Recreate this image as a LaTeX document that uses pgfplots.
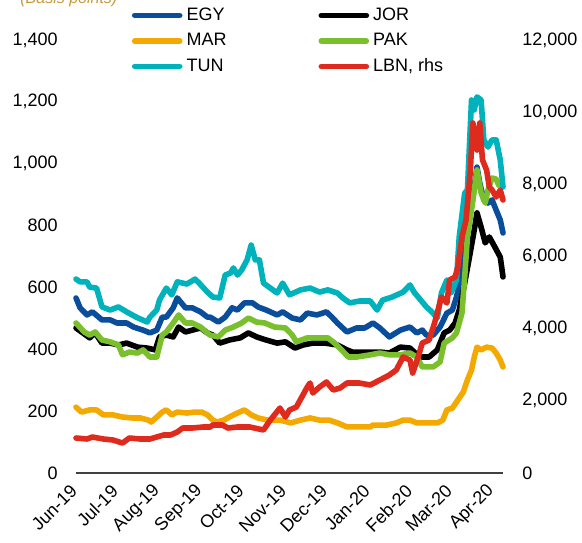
\documentclass[border=0pt]{standalone}
\usepackage{pgfplots}
\pgfplotsset{compat=1.18}
\usepackage{fontspec}
\setmainfont{Liberation Sans}
\definecolor{egy}{HTML}{0A4E9B}
\definecolor{mar}{HTML}{F4A900}
\definecolor{tun}{HTML}{00B2BC}
\definecolor{pak}{HTML}{7AC02C}
\definecolor{lbn}{HTML}{DF2A1E}
\definecolor{ttl}{HTML}{C89A3C}
\definecolor{axc}{HTML}{404040}
\begin{document}
\fontsize{9}{10.8}\selectfont
\begin{tikzpicture}
\pgfplotsset{
  base/.style={
    scale only axis, width=213.5pt, height=216.5pt,
    at={(38pt,34.5pt)}, anchor=south west,
    xmin=0, xmax=312, clip=false,
    major tick length=0pt,
    scaled y ticks=false,
    /pgf/number format/assume math mode=true,
    /pgf/number format/1000 sep={,},
    tick label style={font=\fontsize{9}{10.8}\selectfont},
    xtick={0,30,61,92,122,153,183,214,245,274,305},
    xticklabels={Jun-19,Jul-19,Aug-19,Sep-19,Oct-19,Nov-19,Dec-19,Jan-20,Feb-20,Mar-20,Apr-20},
    every axis plot/.append style={line width=2.8pt, line join=round, line cap=round},
    legend image code/.code={\draw[##1, line width=2.8pt, line cap=round] (0pt,0pt) -- (22.5pt,0pt);},
  }
}
\begin{axis}[base, ymin=0, ymax=1400, ytick={0,200,...,1400},
  axis x line*=bottom, axis y line*=left,
  y axis line style={draw=none},
  x axis line style={draw=axc, line width=1pt, -},
  yticklabel style={anchor=east, inner sep=0pt, xshift=-9pt},
  xticklabel style={xshift=-1pt, yshift=-7.5pt, rotate=45, anchor=east, inner sep=0pt},
]
\addplot[egy] coordinates {(0,566)(3,534)(8,511)(12,521)(19,495)(25,495)(30,485)(37,485)(42,472)(49,462)(54,453)(59,462)(63,504)(66,504)(71,534)(74,566)(80,534)(85,534)(91,521)(96,504)(98,504)(104,488)(109,504)(114,534)(118,527)(123,550)(129,550)(133,537)(139,527)(147,511)(151,521)(158,501)(164,495)(169,517)(176,511)(183,521)(187,504)(191,485)(198,456)(205,469)(211,469)(217,485)(222,469)(229,440)(237,462)(244,472)(249,453)(253,462)(256,446)(261,446)(266,472)(271,517)(275,527)(278,569)(282,647)(285,776)(289,860)(293,989)(295,938)(298,883)(301,873)(304,883)(307,850)(310,818)(312,776)};
\addplot[black] coordinates {(0,469)(5,453)(10,437)(14,453)(19,420)(25,420)(31,414)(37,420)(45,407)(52,404)(58,398)(61,440)(66,446)(71,440)(75,472)(80,456)(85,462)(91,469)(96,453)(100,446)(105,420)(112,430)(120,437)(126,453)(132,440)(139,430)(147,420)(153,424)(160,404)(166,414)(173,420)(182,420)(191,414)(198,398)(202,391)(209,391)(215,391)(222,391)(229,388)(237,407)(244,404)(251,375)(258,375)(264,398)(269,453)(273,462)(277,485)(280,527)(284,614)(288,711)(291,786)(293,841)(296,795)(299,744)(302,763)(306,731)(310,698)(312,634)};
\addplot[mar] coordinates {(0,213)(4,197)(10,204)(15,204)(20,188)(27,188)(34,181)(41,178)(47,178)(53,171)(55,165)(59,181)(63,197)(66,204)(70,188)(74,197)(81,194)(87,197)(92,197)(96,188)(100,171)(103,165)(108,171)(112,181)(118,194)(123,204)(128,188)(133,178)(140,171)(149,171)(157,162)(164,171)(171,178)(178,171)(185,171)(191,162)(198,149)(205,149)(215,149)(217,155)(227,155)(234,162)(239,171)(244,171)(249,162)(256,162)(264,162)(268,171)(271,204)(275,210)(279,236)(283,262)(286,301)(289,333)(291,375)(293,407)(296,398)(300,407)(304,404)(307,388)(310,365)(312,343)};
\addplot[pak] coordinates {(0,485)(6,456)(10,446)(14,456)(19,430)(25,424)(31,414)(34,382)(39,391)(45,388)(49,398)(54,375)(59,375)(63,446)(66,456)(71,485)(75,511)(80,485)(85,485)(91,472)(96,453)(98,446)(104,440)(109,462)(115,472)(121,485)(126,501)(132,488)(138,485)(145,472)(153,469)(158,446)(161,424)(169,437)(176,437)(184,437)(189,420)(194,398)(199,375)(205,375)(215,382)(222,388)(229,382)(237,382)(244,388)(249,375)(253,343)(261,343)(266,359)(269,420)(275,437)(278,453)(282,517)(284,634)(286,763)(290,883)(293,980)(296,905)(299,873)(301,915)(304,954)(307,950)(309,930)};
\addplot[tun] coordinates {(0,627)(3,618)(8,618)(10,601)(15,598)(19,537)(25,527)(31,537)(37,521)(44,504)(52,488)(54,504)(59,527)(61,559)(66,598)(70,576)(74,618)(81,611)(87,627)(90,614)(96,585)(100,569)(105,566)(109,640)(113,647)(115,663)(118,640)(121,656)(125,689)(128,737)(131,689)(134,689)(137,614)(142,598)(147,582)(151,614)(156,576)(164,592)(171,598)(178,585)(184,592)(191,582)(195,566)(200,550)(207,556)(215,556)(220,527)(224,559)(231,569)(239,585)(244,608)(247,585)(253,553)(256,537)(260,521)(264,501)(267,582)(271,624)(274,582)(278,624)(280,763)(284,905)(286,915)(289,1206)(291,1174)(293,1216)(296,1206)(298,1077)(301,1054)(304,1077)(307,1077)(310,1012)(312,925)};
\end{axis}
\begin{axis}[base, ymin=0, ymax=12000, ytick={0,2000,...,12000},
  axis x line=none, axis y line*=right,
  y axis line style={draw=none},
  yticklabel style={anchor=west, inner sep=0pt, xshift=9.5pt},
  legend columns=2, legend cell align=left,
  legend style={draw=none, fill=none, inner xsep=0pt, inner ysep=0pt,
    at={(axis description cs:0.13,1.087)}, anchor=north west,
    nodes={inner sep=2pt, text height=6.8pt, text depth=1.95pt},
    font=\fontsize{9}{10.8}\selectfont,
    /tikz/every even column/.append style={column sep=44pt}},
]
\addlegendimage{egy}\addlegendentry{EGY}
\addlegendimage{black}\addlegendentry{JOR}
\addlegendimage{mar}\addlegendentry{MAR}
\addlegendimage{pak}\addlegendentry{PAK}
\addlegendimage{tun}\addlegendentry{TUN}
\addplot[lbn] coordinates {(0,970)(8,942)(12,998)(20,942)(27,915)(34,831)(39,970)(47,942)(54,942)(59,998)(64,1053)(69,1053)(74,1136)(78,1247)(85,1247)(93,1275)(98,1275)(100,1330)(107,1330)(111,1247)(118,1275)(127,1275)(137,1192)(142,1469)(149,1801)(153,1552)(156,1746)(161,1829)(165,2106)(169,2383)(171,2494)(173,2217)(178,2383)(183,2522)(188,2300)(193,2356)(198,2494)(207,2494)(215,2439)(222,2577)(229,2716)(234,2855)(239,3215)(244,3132)(246,2771)(250,3215)(253,3603)(258,3686)(262,4157)(267,4878)(271,4711)(273,5349)(277,5432)(279,5709)(282,6540)(285,7012)(288,8311)(290,9700)(293,8951)(295,9700)(297,8674)(300,8397)(302,7926)(304,7843)(307,7649)(310,7843)(312,7566)};
\addlegendentry{LBN, rhs}
\end{axis}
\node[anchor=base west, font=\fontsize{8}{9.6}\selectfont\itshape, text=ttl, inner sep=0pt] at (10pt,269pt) {(Basis points)};
\pgfresetboundingbox
\useasboundingbox (0,0) rectangle (291pt,271pt);
\end{tikzpicture}
\end{document}
